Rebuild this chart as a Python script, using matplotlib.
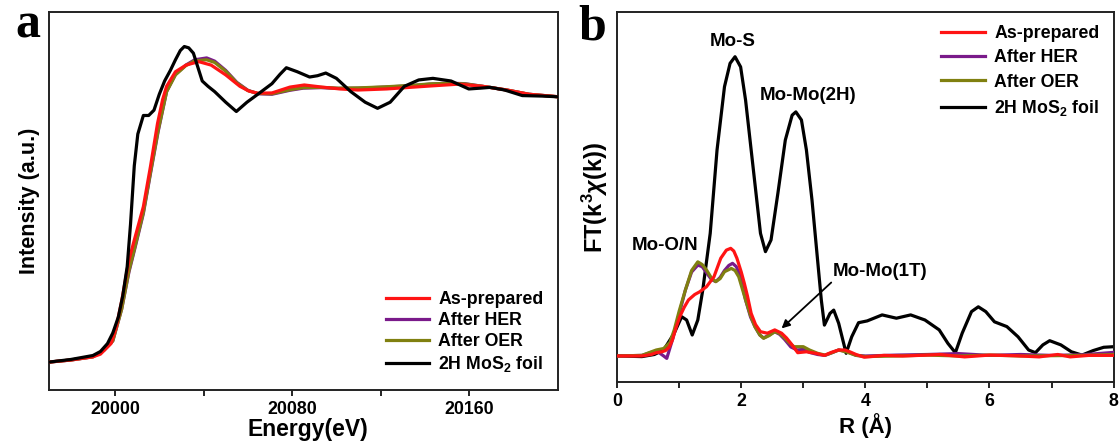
import numpy as np
import matplotlib
matplotlib.use('Agg')
import matplotlib.pyplot as plt

plt.rcParams['font.family'] = ['Liberation Sans', 'DejaVu Sans']
plt.rcParams['font.weight'] = 'bold'
plt.rcParams['mathtext.fontset'] = 'custom'
plt.rcParams['mathtext.rm'] = 'Liberation Sans:bold'
plt.rcParams['mathtext.it'] = 'Liberation Sans:bold:italic'
plt.rcParams['mathtext.bf'] = 'Liberation Sans:bold'

# ---- panel a: XANES ----
E_asp = [19970, 19980, 19990, 19993.4, 19998.2, 20000.5, 20003, 20006.3, 20008.7, 20012.8, 20016, 20019.2,
         20021.5, 20023.3, 20027.3, 20032.1, 20037.8, 20043.4, 20050, 20056.4, 20060.5, 20064.5, 20070.9,
         20079, 20085.5, 20093.5, 20101.6, 20109.7, 20122.6, 20135, 20142, 20155, 20166, 20177, 20187, 20201]
I_asp = [0, 0.008, 0.02, 0.03, 0.07, 0.13, 0.23, 0.385, 0.46, 0.586, 0.737, 0.90,
         0.99, 1.04, 1.095, 1.12, 1.133, 1.12, 1.083, 1.04, 1.022, 1.014, 1.015,
         1.037, 1.045, 1.037, 1.03, 1.026, 1.03, 1.037, 1.041, 1.048, 1.04, 1.026, 1.01, 1.0]

E_her = [19970, 19980, 19990, 19995, 19999, 20003, 20006.3, 20009, 20012.8, 20016, 20019.5, 20023.3,
         20027.3, 20032, 20036, 20041.4, 20045, 20050, 20055, 20060, 20064.5, 20070.9, 20079, 20085,
         20093, 20101, 20110, 20122, 20135, 20142, 20150, 20158, 20166, 20177, 20187, 20201]
I_her = [0, 0.008, 0.02, 0.045, 0.08, 0.2, 0.34, 0.43, 0.56, 0.71, 0.87, 1.02,
         1.085, 1.12, 1.14, 1.147, 1.135, 1.10, 1.055, 1.025, 1.012, 1.01, 1.025, 1.033,
         1.035, 1.032, 1.033, 1.037, 1.043, 1.048, 1.052, 1.05, 1.04, 1.026, 1.01, 1.0]

E_oer = E_her
I_oer = [0, 0.008, 0.02, 0.045, 0.08, 0.2, 0.345, 0.435, 0.565, 0.715, 0.875, 1.02,
         1.083, 1.118, 1.136, 1.14, 1.13, 1.097, 1.053, 1.024, 1.013, 1.012, 1.027, 1.035,
         1.036, 1.033, 1.034, 1.038, 1.044, 1.049, 1.051, 1.049, 1.04, 1.026, 1.01, 1.0]

E_foil = [19970, 19980, 19990, 19993.4, 19996.6, 19999, 20001.5, 20003.5, 20005.5, 20007, 20008.7, 20010.3,
          20012.8, 20015.2, 20017.6, 20020, 20022.4, 20025, 20027.3, 20029.5, 20031.3, 20033.3, 20035.4,
          20037.5, 20039.4, 20042, 20045, 20050, 20054.8, 20059.6, 20064.5, 20070.9, 20074.5, 20077.4,
          20082.3, 20087.9, 20091.5, 20095.2, 20100, 20106.5, 20113, 20118.6, 20124.3, 20130.7, 20137.2,
          20143.6, 20151.8, 20159.8, 20165, 20169.5, 20176, 20184, 20193.8, 20201]
I_foil = [0, 0.01, 0.025, 0.04, 0.07, 0.11, 0.17, 0.25, 0.36, 0.52, 0.74, 0.86,
          0.93, 0.93, 0.95, 1.01, 1.06, 1.10, 1.14, 1.175, 1.19, 1.185, 1.165,
          1.11, 1.06, 1.04, 1.02, 0.98, 0.945, 0.98, 1.01, 1.05, 1.085, 1.11,
          1.095, 1.075, 1.08, 1.09, 1.07, 1.02, 0.98, 0.957, 0.98, 1.04, 1.064,
          1.07, 1.06, 1.03, 1.033, 1.036, 1.026, 1.005, 1.003, 1.0]

# ---- panel b: FT-EXAFS ----
R_asp = [0, 0.4, 0.55, 0.63, 0.72, 0.78, 0.84, 0.89, 0.95, 1.01, 1.08, 1.15, 1.25, 1.33, 1.44, 1.56, 1.67,
         1.76, 1.83, 1.88, 1.93, 2.0, 2.05, 2.1, 2.16, 2.23, 2.31, 2.42, 2.54, 2.65, 2.73, 2.8, 2.91, 3.05,
         3.2, 3.34, 3.45, 3.57, 3.67, 3.75, 3.85, 3.98, 4.3, 4.6, 5.0, 5.2, 5.6, 6.0, 6.4, 6.8, 7.1, 7.3, 7.6, 8.0]
F_asp = [0, 0.0, 0.05, 0.11, 0.14, 0.18, 0.3, 0.53, 0.95, 1.31, 1.62, 1.87, 2.05, 2.14, 2.31, 2.64, 3.26,
         3.53, 3.59, 3.5, 3.26, 2.8, 2.42, 2.0, 1.42, 1.05, 0.81, 0.76, 0.87, 0.76, 0.6, 0.42, 0.11, 0.14,
         0.09, 0.02, 0.12, 0.2, 0.2, 0.14, 0.05, -0.04, 0.02, 0.0, 0.03, 0.05, -0.03, 0.03, 0.01, -0.03, 0.05, -0.03, 0.02, 0.02]

R_her = [0, 0.4, 0.55, 0.65, 0.75, 0.8, 0.9, 1.0, 1.1, 1.2, 1.3, 1.37, 1.44, 1.52, 1.59, 1.66, 1.73, 1.8,
         1.86, 1.92, 1.98, 2.07, 2.15, 2.22, 2.3, 2.36, 2.45, 2.54, 2.62, 2.7, 2.8, 2.9, 3.0, 3.1, 3.23,
         3.35, 3.45, 3.57, 3.7, 3.85, 4.0, 4.5, 5.0, 5.5, 6.0, 6.5, 7.0, 7.5, 8.0]
F_her = [0, 0.02, 0.12, 0.15, 0.0, -0.08, 0.6, 1.4, 2.2, 2.8, 3.03, 2.98, 2.78, 2.55, 2.48, 2.62, 2.85, 3.02,
         3.09, 2.98, 2.7, 1.87, 1.3, 0.98, 0.7, 0.6, 0.7, 0.81, 0.72, 0.55, 0.3, 0.2, 0.22, 0.12, 0.05,
         0.02, 0.1, 0.2, 0.15, 0.02, 0.0, 0.03, 0.05, 0.08, 0.02, 0.05, 0.02, 0.04, 0.12]

R_oer = [0, 0.4, 0.5, 0.63, 0.75, 0.85, 0.92, 1.0, 1.1, 1.2, 1.3, 1.37, 1.44, 1.52, 1.59, 1.66, 1.73, 1.84,
         1.9, 1.96, 2.07, 2.15, 2.22, 2.3, 2.36, 2.45, 2.54, 2.62, 2.68, 2.77, 2.85, 3.0, 3.1, 3.23, 3.35,
         3.45, 3.57, 3.7, 3.85, 4.0, 4.5, 5.0, 5.5, 6.0, 6.5, 7.0, 7.5, 8.0]
F_oer = [0, 0.02, 0.1, 0.2, 0.25, 0.45, 0.87, 1.5, 2.2, 2.85, 3.14, 3.05, 2.87, 2.6, 2.48, 2.58, 2.81, 2.92,
         2.85, 2.64, 1.87, 1.35, 0.98, 0.7, 0.59, 0.68, 0.81, 0.75, 0.64, 0.45, 0.31, 0.31, 0.2, 0.09, 0.03,
         0.1, 0.2, 0.13, 0.02, -0.02, 0.0, 0.03, 0.0, 0.03, 0.0, 0.01, 0.02, 0.05]

R_foil = [0, 0.4, 0.6, 0.75, 0.92, 1.04, 1.12, 1.21, 1.30, 1.38, 1.50, 1.61, 1.73, 1.82, 1.90, 1.99, 2.07,
          2.19, 2.31, 2.39, 2.48, 2.59, 2.71, 2.82, 2.88, 2.97, 3.05, 3.14, 3.23, 3.29, 3.34, 3.43, 3.49,
          3.57, 3.69, 3.78, 3.89, 4.03, 4.27, 4.50, 4.73, 4.96, 5.19, 5.33, 5.45, 5.56, 5.71, 5.82, 5.94,
          6.08, 6.28, 6.46, 6.63, 6.74, 6.86, 6.97, 7.15, 7.32, 7.49, 7.67, 7.84, 8.0]
F_foil = [0, -0.02, 0.05, 0.2, 0.76, 1.31, 1.2, 0.7, 1.2, 2.2, 4.09, 6.87, 8.98, 9.76, 9.98, 9.64, 8.53,
          6.31, 4.09, 3.48, 3.87, 5.42, 7.2, 8.03, 8.14, 7.87, 6.87, 5.2, 3.2, 1.87, 1.03, 1.42, 1.53,
          1.09, 0.09, 0.64, 1.11, 1.17, 1.37, 1.26, 1.37, 1.2, 0.87, 0.42, 0.11, 0.76, 1.48, 1.64, 1.48,
          1.14, 0.98, 0.64, 0.2, 0.11, 0.37, 0.51, 0.37, 0.14, 0.03, 0.18, 0.29, 0.31]

labels = ['As-prepared', 'After HER', 'After OER', '2H MoS$_2$ foil']
colors = ['#ff1414', '#7a1a8a', '#808010', '#000000']

fig = plt.figure(figsize=(11.2, 4.46), dpi=100)
axa = fig.add_axes([0.0434, 0.1256, 0.4546, 0.8474])
axb = fig.add_axes([0.551, 0.144, 0.4433, 0.829])

lw = 2.3
axa.plot(E_asp, I_asp, color=colors[0], lw=lw, label=labels[0], zorder=4)
axa.plot(E_her, I_her, color=colors[1], lw=lw, label=labels[1], zorder=2)
axa.plot(E_oer, I_oer, color=colors[2], lw=lw, label=labels[2], zorder=3)
axa.plot(E_foil, I_foil, color=colors[3], lw=lw, label=labels[3], zorder=5)
axa.set_xlim(19970, 20200)
axa.set_ylim(-0.105, 1.32)
axa.set_xticks([20000, 20080, 20160])
axa.set_xticks([20040, 20120], minor=True)
axa.set_yticks([])
axa.set_xlabel('Energy(eV)', fontsize=16.5, fontweight='bold', labelpad=2)
axa.xaxis.set_label_coords(0.51, -0.075)
axa.set_ylabel('Intensity (a.u.)', fontsize=15.5, fontweight='bold', labelpad=6)
axa.legend(loc='upper left', bbox_to_anchor=(386/1120, 1-291/446), bbox_transform=fig.transFigure,
           frameon=False, fontsize=12.8, handlelength=2.4, handletextpad=0.55, labelspacing=0.22,
           borderpad=0, borderaxespad=0)

axb.plot(R_foil, F_foil, color=colors[3], lw=lw, zorder=2)
axb.plot(R_her, F_her, color=colors[1], lw=lw, zorder=3)
axb.plot(R_oer, F_oer, color=colors[2], lw=lw, zorder=4)
axb.plot(R_asp, F_asp, color=colors[0], lw=lw, zorder=5)
hb = [axb.lines[3], axb.lines[1], axb.lines[2], axb.lines[0]]
axb.set_xlim(0, 8)
axb.set_ylim(-0.86, 11.47)
axb.set_xticks([0, 2, 4, 6, 8])
axb.set_xticks([1, 3, 5, 7], minor=True)
axb.set_yticks([])
axb.set_xlabel('R (Å)', fontsize=16, fontweight='bold', labelpad=2)
axb.set_ylabel(r'FT(k$^{\mathrm{3}}$$\chi$(k))', fontsize=17, fontweight='bold', labelpad=5)
axb.legend(hb, labels, loc='upper left', bbox_to_anchor=(941/1120, 1-25/446), bbox_transform=fig.transFigure,
           frameon=False, fontsize=12.8, handlelength=2.5, handletextpad=0.5, labelspacing=0.41,
           borderpad=0, borderaxespad=0)

axb.text(1.87, 10.48, 'Mo-S', ha='center', va='center', fontsize=13.5, fontweight='bold')
axb.text(3.08, 8.7, 'Mo-Mo(2H)', ha='center', va='center', fontsize=13.5, fontweight='bold')
axb.text(0.78, 3.7, 'Mo-O/N', ha='center', va='center', fontsize=13.5, fontweight='bold')
axb.text(4.24, 2.81, 'Mo-Mo(1T)', ha='center', va='center', fontsize=13.5, fontweight='bold')
axb.annotate('', xy=(2.65, 0.92), xytext=(3.45, 2.45),
             arrowprops=dict(arrowstyle='-|>', color='black', lw=1.3, mutation_scale=12,
                             shrinkA=0, shrinkB=0))

for ax in (axa, axb):
    for s in ax.spines.values():
        s.set_linewidth(1.4)
        s.set_color('#222222')
    ax.tick_params(axis='x', which='both', direction='out', length=4, width=1.2, labelsize=12.8, pad=4)
    for t in ax.get_xticklabels():
        t.set_fontweight('bold')

fig.text(28/1120, 1-26/446, 'a', ha='center', va='center', fontsize=36, fontweight='bold',
         family='Liberation Serif')
fig.text(592/1120, 1-28/446, 'b', ha='center', va='center', fontsize=36, fontweight='bold',
         family='Liberation Serif')

fig.savefig('out.png', dpi=100)
